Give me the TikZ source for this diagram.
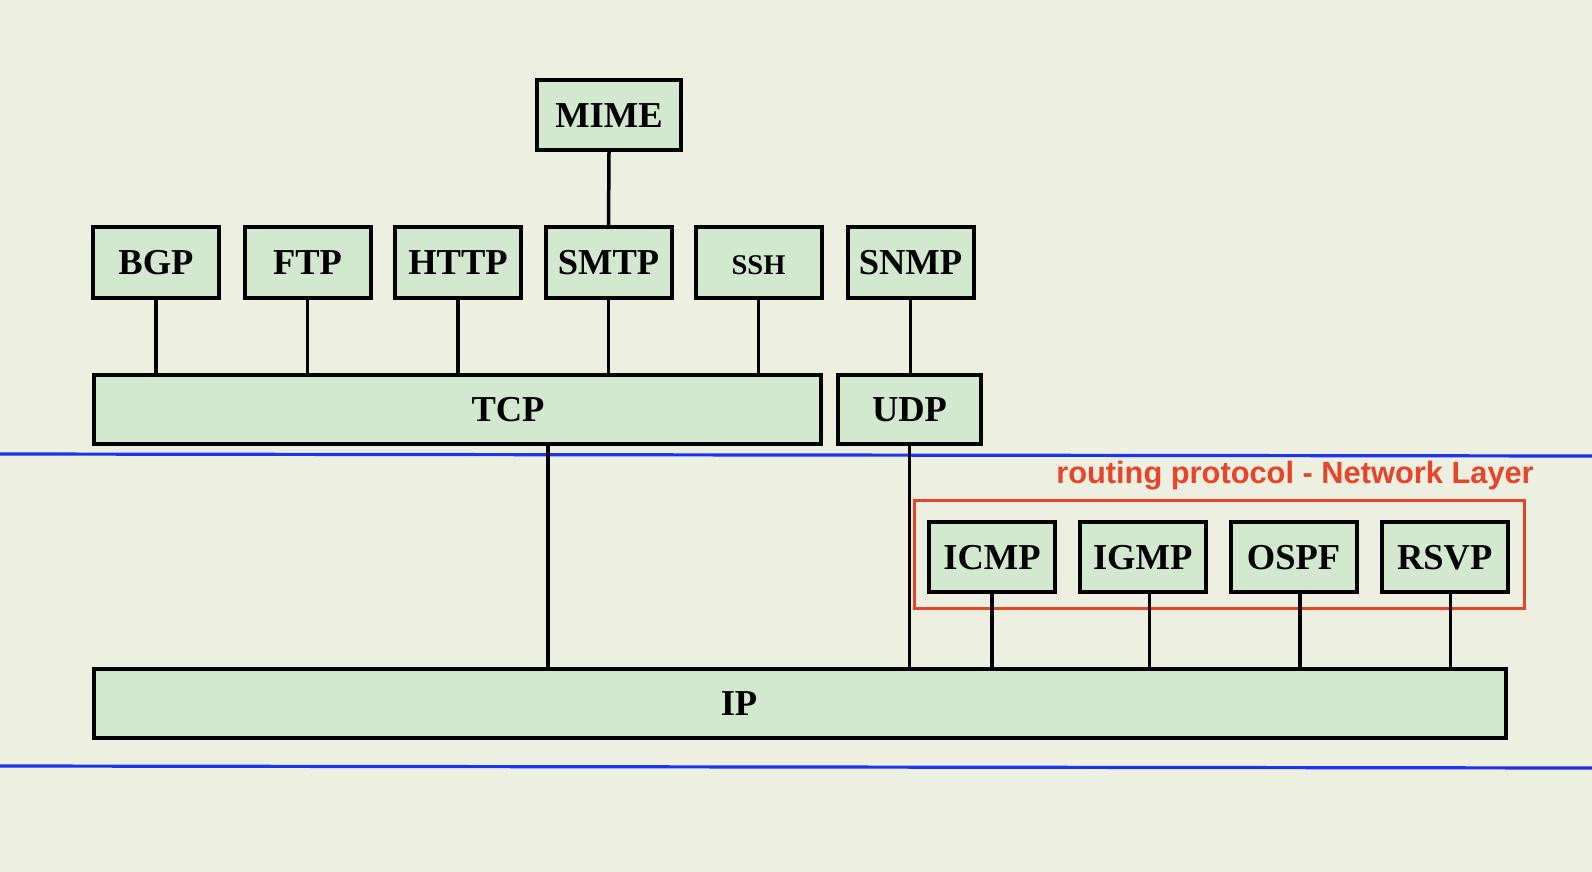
\documentclass[tikz,border=0pt]{standalone}
\usepackage{fontspec}
\setmainfont{Liberation Serif}
\newfontfamily\redsans{Liberation Sans}
\definecolor{bgcol}{RGB}{237,240,224}
\definecolor{boxfill}{RGB}{210,233,207}
\definecolor{layerblue}{RGB}{28,52,240}
\definecolor{netred}{RGB}{232,68,42}
\begin{document}
\begin{tikzpicture}[x=1pt,y=-1pt,
  box/.style={draw=black, line width=4pt, fill=boxfill, inner sep=0pt,
    font=\fontsize{36.5}{40}\selectfont\bfseries, text height=24.7pt, text depth=0pt},
  topbox/.style={box, minimum width=126pt, minimum height=71pt},
  netbox/.style={box, minimum width=126pt, minimum height=70pt},
  conn/.style={draw=black, line width=3.5pt},
  layerline/.style={draw=layerblue, line width=3.2pt},
  groupbox/.style={draw=netred, line width=3pt}]
\fill[bgcol] (0,0) rectangle (1592,872);
\useasboundingbox (0,0) rectangle (1592,872);

% layer separators
\draw[layerline] (0,454) -- (1592,456);
\draw[layerline] (0,766) -- (1592,768);

% application layer
\node[box, minimum width=144pt, minimum height=70pt] (mime) at (609,115) {MIME};
\node[topbox] (bgp)  at (156,262.5) {BGP};
\node[topbox] (ftp)  at (307.5,262.5) {FTP};
\node[topbox] (http) at (458,262.5) {HTTP};
\node[topbox] (smtp) at (608.5,262.5) {SMTP};
\node[topbox, font=\fontsize{28.5}{32}\selectfont\bfseries] (ssh) at (758.5,262.5) {SSH};
\node[topbox] (snmp) at (910.5,262.5) {SNMP};

% transport layer
\node[box, minimum width=727pt, minimum height=69pt] (tcp) at (457.5,409.5) {\hspace*{101pt}TCP};
\node[box, minimum width=143pt, minimum height=69pt] (udp) at (909.5,409.5) {UDP};

% network layer
\node[box, minimum width=1412pt, minimum height=69pt] (ip) at (800,703.5) {IP\hspace*{122pt}};
\node[netbox] (icmp) at (992,557) {ICMP};
\node[netbox] (igmp) at (1142.7,557) {IGMP};
\node[netbox] (ospf) at (1293.5,557) {OSPF};
\node[netbox] (rsvp) at (1444.7,557) {RSVP};

\draw[groupbox] (914,500) rectangle (1524,608);
\node[text=netred, font=\redsans\fontsize{30.8}{34}\selectfont\bfseries, inner sep=0pt] (routing) at (1295,475.5) {routing protocol - Network Layer};

% connectors
\draw[conn] (mime.south) -- (smtp.north);
\foreach \n in {bgp,ftp,http,smtp,ssh}{
  \draw[conn] (\n.south) -- (\n.south |- tcp.north);
}
\draw[conn] (snmp.south) -- (snmp.south |- udp.north);
\draw[conn] ([xshift=90.5pt]tcp.south) -- ([xshift=90.5pt]tcp.south |- ip.north);
\draw[conn] (udp.south) -- (udp.south |- ip.north);
\draw[conn] (icmp.south) -- (icmp.south |- ip.north);
\draw[conn] ([xshift=7pt]igmp.south) -- ([xshift=7pt]igmp.south |- ip.north);
\draw[conn] ([xshift=6.5pt]ospf.south) -- ([xshift=6.5pt]ospf.south |- ip.north);
\draw[conn] ([xshift=6pt]rsvp.south) -- ([xshift=6pt]rsvp.south |- ip.north);
\end{tikzpicture}
\end{document}
